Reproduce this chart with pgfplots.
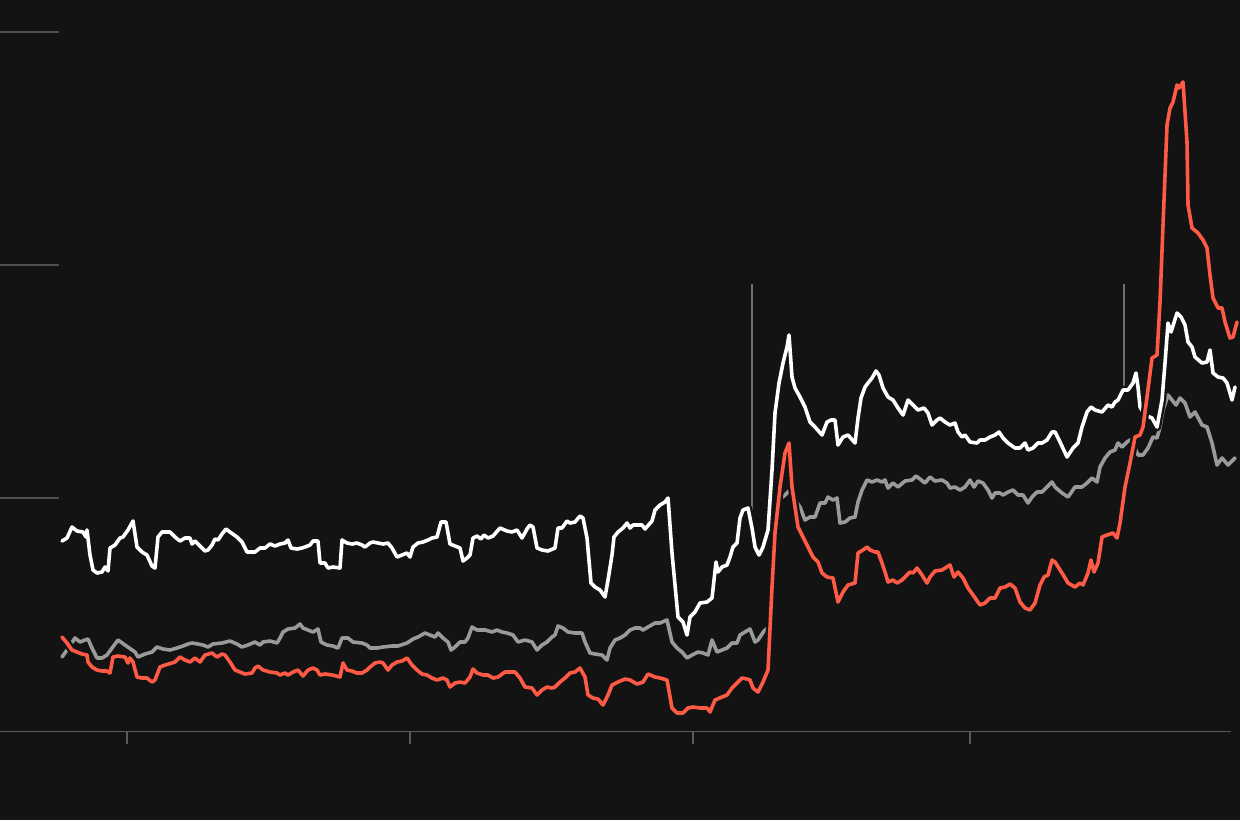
\documentclass[border=0pt]{standalone}
\usepackage{pgfplots}
\pgfplotsset{compat=1.18}
\definecolor{bg}{HTML}{131313}
\definecolor{gridc}{HTML}{4E4E4E}
\definecolor{axc}{HTML}{5A5A5A}
\definecolor{vlc}{HTML}{707070}
\definecolor{greyline}{HTML}{9A9A9A}
\definecolor{redline}{HTML}{FF5A45}
\begin{document}
\begin{tikzpicture}
\begin{axis}[
  width=620pt, height=410pt, scale only axis,
  xmin=0, xmax=1240, ymin=0, ymax=820, y dir=reverse,
  hide axis, clip=true,
  every axis plot/.append style={line join=round, line cap=round},
]
\fill[bg] (axis cs:0,0) rectangle (axis cs:1240,820);
% grid stubs
\addplot[gridc, line width=0.7pt, line cap=butt] coordinates {(0,32)(59,32)};
\addplot[gridc, line width=0.7pt, line cap=butt] coordinates {(0,265)(59,265)};
\addplot[gridc, line width=0.7pt, line cap=butt] coordinates {(0,498)(59,498)};
% axis line and ticks
\addplot[axc, line width=0.9pt, line cap=butt] coordinates {(0,731.5)(1231,731.5)};
\addplot[axc, line width=0.9pt, line cap=butt] coordinates {(127,731)(127,744)};
\addplot[axc, line width=0.9pt, line cap=butt] coordinates {(410,731)(410,744)};
\addplot[axc, line width=0.9pt, line cap=butt] coordinates {(693,731)(693,744)};
\addplot[axc, line width=0.9pt, line cap=butt] coordinates {(970,731)(970,744)};
% vertical annotation lines
\addplot[vlc, line width=0.9pt, line cap=butt] coordinates {(752,284)(752,510)};
\addplot[vlc, line width=0.9pt, line cap=butt] coordinates {(1124,284)(1124,392)};

\def\greydata{(62,657)(67,650)(75,638)(80,642)(85,640)(88,639)(92,648)(97,658)(102,658)(107,655)(112,648)(118,640)(125,645)(135,652)(138,657)(145,654)(152,652)(157,647)(163,649)(170,650)(177,648)(183,646)(188,644)(192,643)(198,644)(203,645)(208,647)(213,644)(222,643)(230,641)(237,644)(242,647)(248,645)(255,642)(260,645)(263,642)(270,641)(277,643)(280,638)(283,632)(288,629)(295,628)(300,624)(303,628)(308,630)(313,632)(318,629)(321,642)(327,645)(333,646)(338,648)(342,638)(348,638)(353,642)(362,643)(367,645)(370,648)(377,648)(383,647)(392,646)(398,646)(407,643)(413,639)(418,637)(425,633)(430,635)(435,637)(438,633)(443,638)(448,642)(451,650)(455,647)(460,642)(465,642)(468,638)(472,627)(477,630)(485,630)(492,632)(497,630)(502,632)(507,633)(513,635)(518,642)(525,640)(532,642)(537,650)(542,645)(547,642)(552,637)(555,635)(558,626)(563,628)(568,632)(575,633)(582,633)(585,642)(590,653)(595,654)(602,655)(607,660)(610,648)(615,640)(620,638)(625,635)(630,630)(635,628)(640,628)(643,630)(648,627)(655,623)(660,623)(667,620)(672,642)(677,648)(682,652)(687,658)(692,655)(698,652)(703,653)(708,655)(712,640)(717,652)(722,650)(727,648)(732,643)(737,643)(740,635)(745,632)(750,629)(755,642)(758,640)(764,631)(770,626)(774,560)(779,500)(785,495)(790,490)(795,500)(800,507)(805,520)(810,517)(815,517)(820,503)(825,503)(828,497)(833,500)(837,498)(840,523)(845,522)(850,518)(855,517)(858,502)(862,490)(867,480)(872,482)(877,480)(882,482)(885,480)(888,488)(893,483)(898,487)(905,481)(912,480)(916,476)(920,479)(925,483)(930,477)(935,481)(942,480)(947,483)(950,488)(955,487)(960,490)(965,487)(970,480)(974,487)(978,481)(983,483)(988,490)(992,498)(995,493)(1000,493)(1003,495)(1008,492)(1013,490)(1018,495)(1023,495)(1028,503)(1032,497)(1037,492)(1042,492)(1047,487)(1052,482)(1055,487)(1062,493)(1068,497)(1075,487)(1082,487)(1087,483)(1092,478)(1097,482)(1100,467)(1105,458)(1110,452)(1115,450)(1118,443)(1122,447)(1127,442)(1130,440)(1135,448)(1138,455)(1143,455)(1148,448)(1153,437)(1157,438)(1160,427)(1163,410)(1168,395)(1172,400)(1176,405)(1180,398)(1185,403)(1190,417)(1195,412)(1202,425)(1207,427)(1212,443)(1217,465)(1222,458)(1228,465)(1235,458)}
\def\whitedata{(62,541)(67,538)(72,527)(77,531)(83,532)(86,537)(87,530)(90,555)(93,570)(97,573)(102,572)(105,567)(108,571)(110,548)(115,545)(120,538)(123,537)(128,530)(133,521)(137,547)(142,552)(147,555)(152,566)(155,568)(158,537)(162,532)(170,532)(175,537)(180,541)(185,538)(190,538)(192,544)(195,541)(200,546)(205,551)(208,550)(212,545)(215,539)(218,540)(222,534)(226,529)(230,532)(237,537)(242,542)(247,552)(255,552)(260,548)(265,548)(270,544)(275,546)(280,544)(285,543)(288,540)(291,548)(297,549)(302,548)(305,547)(310,545)(313,541)(318,541)(320,563)(325,563)(328,568)(333,567)(340,568)(342,540)(347,543)(352,544)(357,543)(362,545)(365,547)(370,543)(373,542)(378,543)(383,544)(388,543)(392,548)(397,557)(402,555)(407,553)(410,557)(413,547)(418,543)(423,542)(428,540)(432,538)(437,537)(441,522)(446,522)(450,544)(455,546)(460,548)(463,561)(467,558)(470,555)(473,538)(477,536)(481,539)(484,535)(488,538)(493,536)(500,528)(507,531)(512,532)(517,530)(522,538)(527,529)(530,525)(533,527)(537,548)(542,550)(548,551)(555,548)(558,528)(562,528)(567,521)(570,523)(575,522)(580,516)(583,518)(587,538)(591,583)(595,587)(600,590)(605,597)(608,580)(612,555)(614,537)(618,532)(623,528)(627,523)(630,528)(633,525)(642,525)(645,529)(652,521)(655,510)(660,505)(665,502)(668,498)(672,553)(678,617)(683,622)(687,635)(690,617)(695,612)(700,603)(707,602)(712,598)(716,562)(718,572)(722,567)(727,565)(730,557)(733,547)(737,543)(740,518)(743,510)(748,508)(752,528)(755,547)(759,555)(763,547)(768,530)(772,470)(775,413)(779,383)(783,363)(787,347)(789,335)(792,377)(795,388)(800,397)(805,407)(810,422)(815,427)(822,435)(827,422)(831,420)(835,420)(838,445)(843,437)(848,435)(855,443)(858,418)(861,398)(865,387)(868,383)(872,378)(876,371)(879,375)(883,388)(888,397)(893,400)(898,408)(903,415)(908,400)(913,405)(918,410)(924,408)(928,413)(932,425)(937,420)(940,418)(945,422)(950,425)(955,423)(958,432)(962,437)(965,435)(970,442)(977,443)(980,440)(985,440)(990,437)(995,435)(999,432)(1003,438)(1008,443)(1015,448)(1020,448)(1025,443)(1028,450)(1033,448)(1038,443)(1042,443)(1047,440)(1052,432)(1055,432)(1060,442)(1067,457)(1073,448)(1078,443)(1082,427)(1087,412)(1091,407)(1095,410)(1102,412)(1108,405)(1112,407)(1115,402)(1118,400)(1123,390)(1128,390)(1133,383)(1136,373)(1138,387)(1140,407)(1145,415)(1152,418)(1157,427)(1162,400)(1165,363)(1168,323)(1171,332)(1177,313)(1181,317)(1185,325)(1188,342)(1192,347)(1195,357)(1202,363)(1207,362)(1210,350)(1213,373)(1218,377)(1223,378)(1227,383)(1232,400)(1235,387)}
\def\reddata{(62,637)(67,643)(72,650)(77,652)(82,654)(87,655)(88,662)(92,667)(97,670)(102,671)(107,671)(110,673)(113,657)(118,656)(125,657)(128,663)(130,658)(133,662)(137,677)(142,678)(147,678)(152,682)(155,680)(160,667)(165,665)(172,663)(175,662)(180,657)(185,660)(190,662)(195,658)(200,662)(205,655)(212,653)(217,657)(222,654)(225,655)(230,662)(235,670)(240,672)(245,674)(252,673)(255,668)(258,666)(263,670)(270,672)(277,673)(280,675)(285,673)(288,675)(293,672)(298,670)(303,676)(308,670)(313,668)(317,670)(320,675)(325,674)(332,675)(340,677)(343,663)(347,670)(352,671)(357,673)(362,673)(367,670)(370,667)(375,663)(380,662)(383,663)(388,670)(392,665)(397,662)(402,661)(407,658)(412,665)(417,670)(422,674)(427,675)(432,678)(437,680)(443,678)(447,680)(450,687)(455,683)(460,682)(465,683)(470,677)(473,669)(477,673)(483,675)(488,675)(493,678)(498,677)(505,672)(512,672)(515,672)(520,678)(525,687)(532,688)(537,695)(542,690)(547,687)(552,688)(555,687)(560,682)(565,678)(570,673)(575,672)(580,668)(585,677)(588,695)(593,698)(598,699)(603,705)(608,695)(612,685)(618,682)(625,679)(630,680)(637,684)(643,682)(648,674)(655,677)(660,678)(667,680)(672,708)(677,713)(683,713)(688,708)(693,707)(700,708)(707,708)(710,712)(715,700)(722,697)(727,695)(732,688)(737,683)(742,678)(747,679)(750,680)(753,688)(758,692)(763,682)(768,670)(772,587)(775,533)(780,487)(785,453)(789,443)(792,487)(795,507)(798,527)(803,537)(808,547)(813,557)(818,562)(822,573)(827,577)(833,578)(838,602)(843,592)(848,585)(855,583)(858,553)(863,550)(867,547)(870,550)(875,552)(878,552)(882,563)(885,572)(888,582)(893,580)(897,583)(902,580)(907,575)(910,572)(913,573)(917,568)(922,575)(927,583)(930,577)(935,571)(942,570)(950,565)(954,577)(958,572)(963,578)(968,588)(973,595)(980,605)(985,603)(990,598)(995,598)(1000,588)(1005,587)(1010,584)(1015,588)(1020,602)(1025,608)(1030,610)(1035,603)(1040,585)(1044,577)(1048,575)(1052,560)(1055,562)(1062,573)(1068,583)(1075,587)(1080,583)(1083,585)(1088,573)(1091,560)(1094,572)(1098,563)(1102,537)(1107,535)(1113,533)(1117,538)(1120,523)(1125,487)(1130,463)(1135,437)(1140,435)(1143,427)(1147,397)(1152,358)(1157,355)(1160,302)(1163,225)(1167,125)(1170,108)(1173,102)(1177,85)(1179,88)(1183,82)(1187,142)(1188,205)(1192,228)(1198,233)(1203,240)(1207,248)(1210,275)(1213,298)(1218,308)(1222,308)(1225,322)(1230,338)(1233,337)(1237,322)}

\addplot[bg, line width=4.2pt] coordinates \greydata;
\addplot[greyline, line width=1.8pt] coordinates \greydata;
\addplot[bg, line width=4.2pt] coordinates \whitedata;
\addplot[white, line width=1.8pt] coordinates \whitedata;
\addplot[bg, line width=4.2pt] coordinates \reddata;
\addplot[redline, line width=1.8pt] coordinates \reddata;
\end{axis}
\end{tikzpicture}
\end{document}
